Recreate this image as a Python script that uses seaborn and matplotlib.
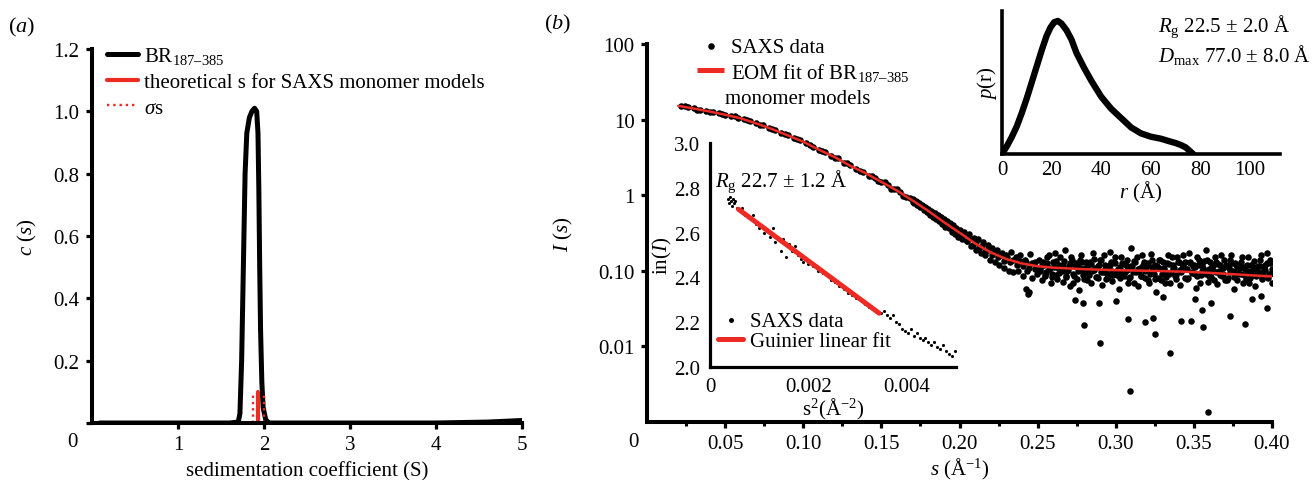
import numpy as np
import seaborn as sns
import matplotlib.pyplot as plt
from matplotlib.ticker import NullLocator

# ---- data: panel (a) sedimentation c(s)
cs_s = [0.09, 1.0, 1.6, 1.70, 1.72, 1.74, 1.76, 1.78, 1.80, 1.83, 1.86, 1.89, 1.915, 1.93, 1.94, 1.95, 1.96,
        1.975, 1.99, 2.02, 2.06, 2.2, 3.0, 4.0, 4.6, 5.0]
cs_c = [0.0, 0.0, 0.0, 0.003, 0.03, 0.20, 0.50, 0.80, 0.93, 0.98, 1.00, 1.01, 1.00, 0.93, 0.75, 0.50, 0.30,
        0.13, 0.05, 0.01, 0.0, 0.0, 0.0, 0.0, 0.003, 0.008]
theo_s = [1.93, 1.93]
theo_c = [0.0, 0.10]
sigma_lo = [1.87, 1.87]
sigma_hi = [2.00, 2.00]
sigma_c = [0.0, 0.093]

# ---- data: panel (b) SAXS curve
band_s = [0.022, 0.026, 0.030, 0.034, 0.038, 0.042, 0.046, 0.050, 0.054, 0.058, 0.062, 0.066, 0.070, 0.074, 0.078,
          0.082, 0.086, 0.090, 0.094, 0.098, 0.102, 0.106, 0.110, 0.114, 0.118, 0.122, 0.126, 0.130, 0.134, 0.138,
          0.142, 0.146, 0.150, 0.154, 0.158, 0.162, 0.166]
band_I = [15.1, 14.8, 14.1, 13.4, 13.1, 12.5, 12.1, 11.5, 11.2, 10.6, 10.2, 9.5, 8.9, 8.4, 7.8,
          7.2, 6.7, 6.3, 5.7, 5.3, 4.9, 4.4, 4.0, 3.7, 3.3, 3.1, 2.7, 2.5, 2.2, 2.05,
          1.82, 1.70, 1.48, 1.38, 1.20, 1.10, 0.95]
band2_s = [0.024, 0.032, 0.040, 0.048, 0.056, 0.064, 0.072, 0.080, 0.088, 0.096, 0.104, 0.112, 0.120, 0.128, 0.136,
           0.144, 0.148, 0.152, 0.156, 0.160, 0.164, 0.168]
band2_I = [15.3, 13.6, 12.6, 11.9, 11.0, 9.8, 8.6, 7.6, 6.4, 5.6, 4.6, 3.9, 3.1, 2.7, 2.1,
           1.80, 1.52, 1.48, 1.22, 1.20, 0.98, 0.92]
knee_s = [0.170, 0.171, 0.172, 0.173, 0.174, 0.175, 0.176, 0.177, 0.178, 0.179, 0.180, 0.181, 0.182, 0.183, 0.184,
          0.185, 0.186, 0.187, 0.188, 0.189, 0.190, 0.191, 0.192, 0.193, 0.194, 0.195, 0.196, 0.197, 0.198, 0.199, 0.200]
knee_I = [0.88, 0.80, 0.84, 0.74, 0.78, 0.70, 0.75, 0.64, 0.70, 0.60, 0.66, 0.55, 0.62, 0.52, 0.58,
          0.49, 0.54, 0.45, 0.52, 0.42, 0.49, 0.38, 0.45, 0.37, 0.43, 0.33, 0.40, 0.31, 0.37, 0.28, 0.35]
knee2_s = [0.1705, 0.1725, 0.1745, 0.1765, 0.1785, 0.1805, 0.1825, 0.1845, 0.1865, 0.1885, 0.1905, 0.1925, 0.1945,
           0.1965, 0.1985, 0.2005, 0.2025, 0.2045, 0.2065, 0.2085, 0.2105, 0.2125, 0.2145, 0.2165, 0.2185, 0.2205,
           0.2225, 0.2245, 0.2265, 0.2285, 0.2305, 0.2325, 0.2345, 0.2365, 0.2385, 0.2405, 0.2425, 0.2445, 0.2465,
           0.2485]
knee2_I = [0.81, 0.82, 0.71, 0.72, 0.67, 0.58, 0.60, 0.50, 0.52, 0.44, 0.45, 0.39, 0.40,
           0.34, 0.35, 0.30, 0.30, 0.25, 0.27, 0.22, 0.24, 0.20, 0.21, 0.18, 0.19, 0.16,
           0.175, 0.15, 0.16, 0.135, 0.15, 0.13, 0.14, 0.12, 0.135, 0.115, 0.13, 0.11, 0.125,
           0.105]
drop_s = [0.2015, 0.203, 0.2045, 0.206, 0.2075, 0.209, 0.2105, 0.212, 0.2135, 0.215, 0.2165, 0.218, 0.2195, 0.221,
          0.2225, 0.224, 0.2255, 0.227, 0.2285, 0.230, 0.2315, 0.233, 0.2345, 0.236, 0.2375, 0.239, 0.2405, 0.242,
          0.2435, 0.245, 0.2465, 0.248, 0.2495, 0.2445, 0.2425]
drop_I = [0.26, 0.33, 0.25, 0.31, 0.21, 0.27, 0.19, 0.26, 0.17, 0.24, 0.16, 0.22, 0.14, 0.20,
          0.13, 0.19, 0.12, 0.17, 0.11, 0.16, 0.10, 0.18, 0.095, 0.15, 0.10, 0.16, 0.085, 0.14,
          0.10, 0.165, 0.08, 0.13, 0.092, 0.052, 0.058]
tail_s = [0.251, 0.2525, 0.254, 0.2555, 0.257, 0.2585, 0.260, 0.2615, 0.263, 0.2645, 0.266, 0.2675, 0.269, 0.2705,
          0.272, 0.2735, 0.275, 0.2765, 0.278, 0.2795, 0.281, 0.2825, 0.284, 0.2855, 0.287, 0.2885, 0.290, 0.2915,
          0.293, 0.2945, 0.296, 0.2975, 0.299, 0.3005, 0.302, 0.3035, 0.305, 0.3065, 0.308, 0.3095, 0.311, 0.3125,
          0.314, 0.3155, 0.317, 0.3185, 0.320, 0.3215, 0.323, 0.3245, 0.326, 0.3275, 0.329, 0.3305, 0.332, 0.3335,
          0.335, 0.3365, 0.338, 0.3395, 0.341, 0.3425, 0.344, 0.3455, 0.347, 0.3485, 0.350, 0.3515, 0.353, 0.3545,
          0.356, 0.3575, 0.359, 0.3605, 0.362, 0.3635, 0.365, 0.3665, 0.368, 0.3695, 0.371, 0.3725, 0.374, 0.3755,
          0.377, 0.3785, 0.380, 0.3815, 0.383, 0.3845, 0.386, 0.3875, 0.389, 0.3905, 0.392, 0.3935, 0.395, 0.3965,
          0.398, 0.399, 0.400]
tail_I = [0.14, 0.075, 0.12, 0.095, 0.16, 0.068, 0.13, 0.088, 0.11, 0.15, 0.072, 0.19, 0.10, 0.062,
          0.14, 0.085, 0.12, 0.055, 0.16, 0.078, 0.13, 0.095, 0.068, 0.17, 0.11, 0.08, 0.14, 0.065,
          0.12, 0.09, 0.18, 0.074, 0.13, 0.10, 0.058, 0.15, 0.085, 0.12, 0.07, 0.20, 0.095, 0.13,
          0.062, 0.11, 0.16, 0.08, 0.12, 0.068, 0.14, 0.09, 0.052, 0.11, 0.075, 0.13, 0.095, 0.16,
          0.07, 0.12, 0.085, 0.15, 0.064, 0.11, 0.13, 0.078, 0.17, 0.095, 0.12, 0.06, 0.14, 0.088,
          0.11, 0.19, 0.072, 0.13, 0.10, 0.15, 0.066, 0.12, 0.085, 0.14, 0.075, 0.11, 0.16, 0.058,
          0.12, 0.09, 0.13, 0.07, 0.105, 0.15, 0.08, 0.12, 0.062, 0.10, 0.14, 0.078, 0.11, 0.17,
          0.09, 0.125, 0.07]
tail2_s = [0.2518, 0.2533, 0.2548, 0.2563, 0.2578, 0.2593, 0.2608, 0.2623, 0.2638, 0.2653, 0.2668, 0.2683, 0.2698,
           0.2713, 0.2728, 0.2743, 0.2758, 0.2773, 0.2788, 0.2803, 0.2818, 0.2833, 0.2848, 0.2863, 0.2878, 0.2893,
           0.2908, 0.2923, 0.2938, 0.2953, 0.2968, 0.2983, 0.2998, 0.3013, 0.3028, 0.3043, 0.3058, 0.3073, 0.3088,
           0.3103, 0.3118, 0.3133, 0.3148, 0.3163, 0.3178, 0.3193, 0.3208, 0.3223, 0.3238, 0.3253, 0.3268, 0.3283,
           0.3298, 0.3313, 0.3328, 0.3343, 0.3358, 0.3373, 0.3388, 0.3403, 0.3418, 0.3433, 0.3448, 0.3463, 0.3478,
           0.3493, 0.3508, 0.3523, 0.3538, 0.3553, 0.3568, 0.3583, 0.3598, 0.3613, 0.3628, 0.3643, 0.3658, 0.3673,
           0.3688, 0.3703, 0.3718, 0.3733, 0.3748, 0.3763, 0.3778, 0.3793, 0.3808, 0.3823, 0.3838, 0.3853, 0.3868,
           0.3883, 0.3898, 0.3913, 0.3928, 0.3943, 0.3958, 0.3973, 0.3988]
tail2_I = [0.105, 0.13, 0.085, 0.15, 0.11, 0.092, 0.17, 0.078, 0.12, 0.10, 0.135, 0.082, 0.115,
           0.15, 0.07, 0.125, 0.098, 0.14, 0.088, 0.11, 0.075, 0.13, 0.10, 0.145, 0.084, 0.12,
           0.095, 0.16, 0.078, 0.11, 0.13, 0.088, 0.15, 0.105, 0.08, 0.125, 0.095, 0.14, 0.082,
           0.115, 0.07, 0.15, 0.10, 0.085, 0.13, 0.11, 0.075, 0.165, 0.098, 0.12, 0.08, 0.14,
           0.105, 0.068, 0.125, 0.09, 0.15, 0.11, 0.078, 0.13, 0.095, 0.16, 0.105, 0.08, 0.13,
           0.115, 0.09, 0.15, 0.07, 0.12, 0.10, 0.14, 0.085, 0.115, 0.075, 0.13, 0.10, 0.16,
           0.092, 0.12, 0.08, 0.14, 0.10, 0.125, 0.075, 0.11, 0.15, 0.088, 0.12, 0.068, 0.10,
           0.135, 0.085, 0.115, 0.16, 0.095, 0.12, 0.08, 0.14]
tail3_s = [0.2514, 0.2529, 0.2544, 0.2559, 0.2574, 0.2589, 0.2604, 0.2619, 0.2634, 0.2649,
           0.2664, 0.2679, 0.2694, 0.2709, 0.2724, 0.2739, 0.2754, 0.2769, 0.2784, 0.2799,
           0.2814, 0.2829, 0.2844, 0.2859, 0.2874, 0.2889, 0.2904, 0.2919, 0.2934, 0.2949,
           0.2964, 0.2979, 0.2994, 0.3009, 0.3024, 0.3039, 0.3054, 0.3069, 0.3084, 0.3099,
           0.3114, 0.3129, 0.3144, 0.3159, 0.3174, 0.3189, 0.3204, 0.3219, 0.3234, 0.3249,
           0.3264, 0.3279, 0.3294, 0.3309, 0.3324, 0.3339, 0.3354, 0.3369, 0.3384, 0.3399,
           0.3414, 0.3429, 0.3444, 0.3459, 0.3474, 0.3489, 0.3504, 0.3519, 0.3534, 0.3549,
           0.3564, 0.3579, 0.3594, 0.3609, 0.3624, 0.3639, 0.3654, 0.3669, 0.3684, 0.3699,
           0.3714, 0.3729, 0.3744, 0.3759, 0.3774, 0.3789, 0.3804, 0.3819, 0.3834, 0.3849,
           0.3864, 0.3879, 0.3894, 0.3909, 0.3924, 0.3939, 0.3954, 0.3969, 0.3984, 0.3999]
tail3_I = [0.098, 0.118, 0.088, 0.125, 0.105, 0.082, 0.112, 0.135, 0.094, 0.108,
           0.121, 0.086, 0.101, 0.128, 0.092, 0.115, 0.079, 0.109, 0.131, 0.097,
           0.113, 0.089, 0.124, 0.103, 0.084, 0.117, 0.139, 0.095, 0.107, 0.083,
           0.119, 0.099, 0.127, 0.087, 0.111, 0.093, 0.122, 0.104, 0.081, 0.114,
           0.133, 0.096, 0.106, 0.085, 0.120, 0.100, 0.126, 0.090, 0.112, 0.078,
           0.116, 0.137, 0.092, 0.108, 0.083, 0.123, 0.097, 0.110, 0.087, 0.129,
           0.101, 0.118, 0.080, 0.105, 0.125, 0.094, 0.113, 0.086, 0.120, 0.099,
           0.134, 0.091, 0.107, 0.082, 0.117, 0.096, 0.122, 0.088, 0.110, 0.076,
           0.114, 0.095, 0.128, 0.084, 0.104, 0.118, 0.090, 0.112, 0.079, 0.100,
           0.121, 0.087, 0.108, 0.095, 0.116, 0.080, 0.103, 0.125, 0.090, 0.106]
outlier_s = [0.2795, 0.290, 0.308, 0.309, 0.319, 0.324, 0.325, 0.335, 0.342, 0.348, 0.355, 0.356, 0.359, 0.373,
             0.383, 0.397, 0.274, 0.279, 0.289, 0.361, 0.244, 0.300, 0.330, 0.351, 0.387, 0.393]
outlier_I = [0.019, 0.011, 0.023, 0.0026, 0.021, 0.024, 0.0146, 0.0081, 0.022, 0.022, 0.030, 0.018, 0.00136, 0.025,
             0.020, 0.032, 0.041, 0.037, 0.038, 0.038, 0.049, 0.040, 0.045, 0.042, 0.043, 0.046]

fit_s = [0.020, 0.030, 0.040, 0.050, 0.060, 0.070, 0.080, 0.090, 0.100, 0.110, 0.120, 0.130, 0.140, 0.150, 0.160,
         0.170, 0.180, 0.190, 0.200, 0.210, 0.220, 0.230, 0.240, 0.250, 0.260, 0.280, 0.300, 0.320, 0.340, 0.360,
         0.380, 0.400]
fit_I = [15.2, 14.0, 12.8, 11.6, 10.4, 8.9, 7.5, 6.2, 5.1, 4.0, 3.2, 2.45, 1.95, 1.50, 1.15,
         0.85, 0.62, 0.44, 0.32, 0.23, 0.175, 0.143, 0.125, 0.115, 0.110, 0.105, 0.102, 0.100, 0.098, 0.094,
         0.089, 0.084]

# ---- data: Guinier inset
gu_s2 = [0.00037, 0.00039, 0.00041, 0.00043, 0.00045, 0.00047, 0.00049, 0.00051, 0.00055, 0.00060, 0.00066,
         0.00072, 0.00078, 0.00083, 0.00088, 0.00094, 0.00100, 0.00106, 0.00110, 0.00116, 0.00122, 0.00128,
         0.00133, 0.00139, 0.00144, 0.00149, 0.00155, 0.00160, 0.00166, 0.00172, 0.00178, 0.00184, 0.00190,
         0.00200, 0.00210, 0.00220, 0.00230, 0.00238, 0.00246, 0.00255, 0.00263, 0.00272, 0.00280, 0.00289,
         0.00297, 0.00306, 0.00315, 0.00323, 0.00332, 0.00340, 0.00348, 0.00354, 0.00360, 0.00366, 0.00372,
         0.00378, 0.00384, 0.00390, 0.00396, 0.00402, 0.00408, 0.00414, 0.00420, 0.00426, 0.00432, 0.00438,
         0.00444, 0.00450, 0.00456, 0.00462, 0.00468, 0.00474, 0.00480, 0.00486, 0.00492, 0.00498]
gu_lnI = [2.75, 2.73, 2.76, 2.74, 2.72, 2.75, 2.73, 2.74, 2.71, 2.70, 2.71,
          2.68, 2.67, 2.66, 2.68, 2.64, 2.62, 2.63, 2.60, 2.61, 2.58, 2.62,
          2.56, 2.57, 2.52, 2.57, 2.49, 2.55, 2.52, 2.54, 2.50, 2.48, 2.47,
          2.46, 2.45, 2.43, 2.42, 2.41, 2.39, 2.38, 2.36, 2.35, 2.33, 2.32,
          2.31, 2.30, 2.28, 2.27, 2.26, 2.25, 2.24, 2.25, 2.23, 2.22, 2.23,
          2.20, 2.19, 2.17, 2.16, 2.15, 2.17, 2.14, 2.15, 2.13, 2.12, 2.13,
          2.11, 2.10, 2.11, 2.09, 2.08, 2.10, 2.07, 2.06, 2.05, 2.07]
gu_fit_s2 = [0.00058, 0.00344]
gu_fit_lnI = [2.704, 2.240]

# ---- data: p(r) inset
pr_r = [0, 2, 4, 6, 8, 10, 12, 14, 16, 18, 19.5, 21, 22.5, 24, 26, 28, 30, 33, 36, 40, 44, 48, 52, 56, 60, 64,
        67, 70, 72, 74, 75.5, 77]
pr_p = [0, 0.06, 0.13, 0.21, 0.31, 0.42, 0.54, 0.66, 0.78, 0.89, 0.95, 0.99, 1.0, 0.98, 0.93, 0.86, 0.76, 0.65,
        0.55, 0.43, 0.34, 0.27, 0.20, 0.155, 0.13, 0.115, 0.098, 0.082, 0.068, 0.05, 0.025, 0.0]

RED = '#ee2a24'
FS = 15

sns.set_style("ticks")
plt.rcParams['font.family'] = ['Liberation Serif', 'DejaVu Serif']
plt.rcParams['mathtext.fontset'] = 'custom'
plt.rcParams['mathtext.rm'] = 'Liberation Serif'
plt.rcParams['mathtext.it'] = 'Liberation Serif:italic'
plt.rcParams['mathtext.bf'] = 'Liberation Serif:bold'
plt.rcParams['mathtext.default'] = 'regular'
plt.rcParams['xtick.labelsize'] = FS
plt.rcParams['ytick.labelsize'] = FS
for key in ['text.color', 'axes.labelcolor', 'xtick.color', 'ytick.color', 'axes.edgecolor']:
    plt.rcParams[key] = 'black'

W, H = 1316, 481
fig = plt.figure(figsize=(W / 100, H / 100), dpi=100)


def box(l, t, r, b):
    return [l / W, 1 - b / H, (r - l) / W, (b - t) / H]


def px(x, y):
    return x / W, 1 - y / H


def style(ax, lw, ticklen, pad):
    ax.set_facecolor('none')
    for side in ['top', 'right']:
        ax.spines[side].set_visible(False)
    for side in ['left', 'bottom']:
        ax.spines[side].set_linewidth(lw)
        ax.spines[side].set_color('black')
    ax.tick_params(direction='out', length=ticklen, width=lw * 0.8, pad=pad, colors='black')


def legend(ax, x, y, n=None, line_w=None, **kw):
    h, l = ax.get_legend_handles_labels()
    if n:
        h, l = h[:n], l[:n]
    leg = ax.legend(h, l, loc='upper left', bbox_to_anchor=px(x, y), bbox_transform=fig.transFigure,
                    frameon=False, fontsize=FS, borderpad=0, borderaxespad=0, **kw)
    if line_w:
        for hl in leg.get_lines():
            hl.set_linewidth(line_w)
            hl.set_solid_capstyle('butt')
    return leg


axa = fig.add_axes(box(92, 50, 522, 424))
axb = fig.add_axes(box(647, 45, 1272, 423))
axg = fig.add_axes(box(710, 144, 956, 368))
axp = fig.add_axes(box(1002, 12, 1280, 155))

# ---------------- panel (a)
sns.lineplot(x=cs_s, y=cs_c, ax=axa, color='black', lw=3.6, label='BR$_{187\u2013385}$',
             estimator=None, sort=False, solid_joinstyle='round')
sns.lineplot(x=theo_s, y=theo_c, ax=axa, color=RED, lw=3.0, label='theoretical s for SAXS monomer models',
             estimator=None, sort=False)
sns.lineplot(x=sigma_lo, y=sigma_c, ax=axa, color=RED, lw=1.7, ls=':', label='$\\mathit{\\sigma}$s',
             estimator=None, sort=False)
sns.lineplot(x=sigma_hi, y=sigma_c, ax=axa, color=RED, lw=1.7, ls=':', estimator=None, sort=False)
axa.set_xlim(0, 5)
axa.set_ylim(0, 1.2)
axa.set_xticks([1, 2, 3, 4, 5])
axa.set_yticks([0.0, 0.2, 0.4, 0.6, 0.8, 1.0, 1.2], labels=['', '0.2', '0.4', '0.6', '0.8', '1.0', '1.2'])
style(axa, 2.9, 4, 5)
axa.set_xlabel('sedimentation coefficient (S)', fontsize=FS, labelpad=5)
axa.set_ylabel('$\\mathit{c}$ ($\\mathit{s}$)', fontsize=FS, labelpad=10)
legend(axa, 107, 46, n=3, handlelength=1.5, handletextpad=0.3, labelspacing=0.3)
fig.text(*px(72, 443), '0', fontsize=FS, ha='center', va='center')
fig.text(*px(22, 27), '($\\mathit{a}$)', fontsize=16, ha='center', va='center')

# ---------------- panel (b) main
saxs_s = band_s + band2_s + knee_s + knee2_s + drop_s + tail_s + tail2_s + tail3_s + outlier_s
saxs_I = band_I + band2_I + knee_I + knee2_I + drop_I + tail_I + tail2_I + tail3_I + outlier_I
sns.scatterplot(x=saxs_s, y=saxs_I, ax=axb, color='black', s=22, linewidth=0, label='SAXS data')
sns.lineplot(x=fit_s, y=fit_I, ax=axb, color=RED, lw=1.8, label='EOM fit of BR$_{187\u2013385}$',
             estimator=None, sort=False)
axb.set_yscale('log')
axb.set_xlim(0, 0.40)
axb.set_ylim(1e-3, 100)
axb.set_yticks([0.01, 0.1, 1, 10, 100], labels=['0.01', '0.10', '1', '10', '100'])
axb.yaxis.set_minor_locator(NullLocator())
axb.set_xticks([0.05, 0.10, 0.15, 0.20, 0.25, 0.30, 0.35, 0.40],
               labels=['0.05', '0.10', '0.15', '0.20', '0.25', '0.30', '0.35', '0.40'])
axb.set_xticks([0.025, 0.075, 0.125, 0.175, 0.225, 0.275, 0.325, 0.375], minor=True)
style(axb, 2.9, 4, 5)
axb.tick_params(which='minor', direction='out', length=3, width=2.2)
axb.set_xlabel('$\\mathit{s}$ (Å$^{-1}$)', fontsize=FS, labelpad=2)
axb.set_ylabel('$\\mathit{I}$ ($\\mathit{s}$)', fontsize=FS, labelpad=17)
legend(axb, 697, 38, line_w=3.6, handlelength=1.3, handletextpad=0.35, labelspacing=0.2, markerscale=1.0)
fig.text(*px(725, 100), 'monomer models', fontsize=FS, ha='left', va='center')
fig.text(*px(633, 443), '0', fontsize=FS, ha='center', va='center')
fig.text(*px(558, 24), '($\\mathit{b}$)', fontsize=16, ha='center', va='center')

# ---------------- Guinier inset
sns.scatterplot(x=gu_s2, y=gu_lnI, ax=axg, color='black', s=5, linewidth=0, label='SAXS data')
sns.lineplot(x=gu_fit_s2, y=gu_fit_lnI, ax=axg, color=RED, lw=3.6, label='Guinier linear fit',
             estimator=None, sort=False)
axg.set_xlim(0, 0.005)
axg.set_ylim(2.0, 3.0)
axg.set_xticks([0, 0.002, 0.004], labels=['0', '0.002', '0.004'])
axg.set_yticks([2.0, 2.2, 2.4, 2.6, 2.8, 3.0], labels=['2.0', '2.2', '2.4', '2.6', '2.8', '3.0'])
style(axg, 2.3, 0, 7)
axg.set_xlabel('s$^{2}$(Å$^{-2}$)', fontsize=FS, labelpad=0)
axg.set_ylabel('in($\\mathit{I}$)', fontsize=FS, labelpad=0)
legend(axg, 718, 312, handlelength=1.2, handletextpad=0.35, labelspacing=0.05, markerscale=1.6)
axg.text(0.0001, 2.83, '$\\mathit{R}_{\\mathrm{g}}$ 22.7 ± 1.2 Å', fontsize=FS, ha='left', va='center')

# ---------------- p(r) inset
sns.lineplot(x=pr_r, y=pr_p, ax=axp, color='black', lw=4.6, estimator=None, sort=False,
             solid_joinstyle='round', solid_capstyle='round')
axp.set_xlim(0, 112)
axp.set_ylim(0, 1.075)
axp.set_xticks([0, 20, 40, 60, 80, 100])
axp.set_yticks([])
style(axp, 2.6, 0, 4)
axp.set_xlabel('$\\mathit{r}$ (Å)', fontsize=FS, labelpad=0)
axp.set_ylabel('$\\mathit{p}$(r)', fontsize=FS, labelpad=2)
fig.text(*px(1158, 27), '$\\mathit{R}_{\\mathrm{g}}$ 22.5 ± 2.0 Å', fontsize=FS, ha='left', va='center')
fig.text(*px(1158, 55), '$\\mathit{D}_{\\mathrm{max}}$ 77.0 ± 8.0 Å', fontsize=FS, ha='left', va='center')

fig.savefig('out.png', dpi=100)
